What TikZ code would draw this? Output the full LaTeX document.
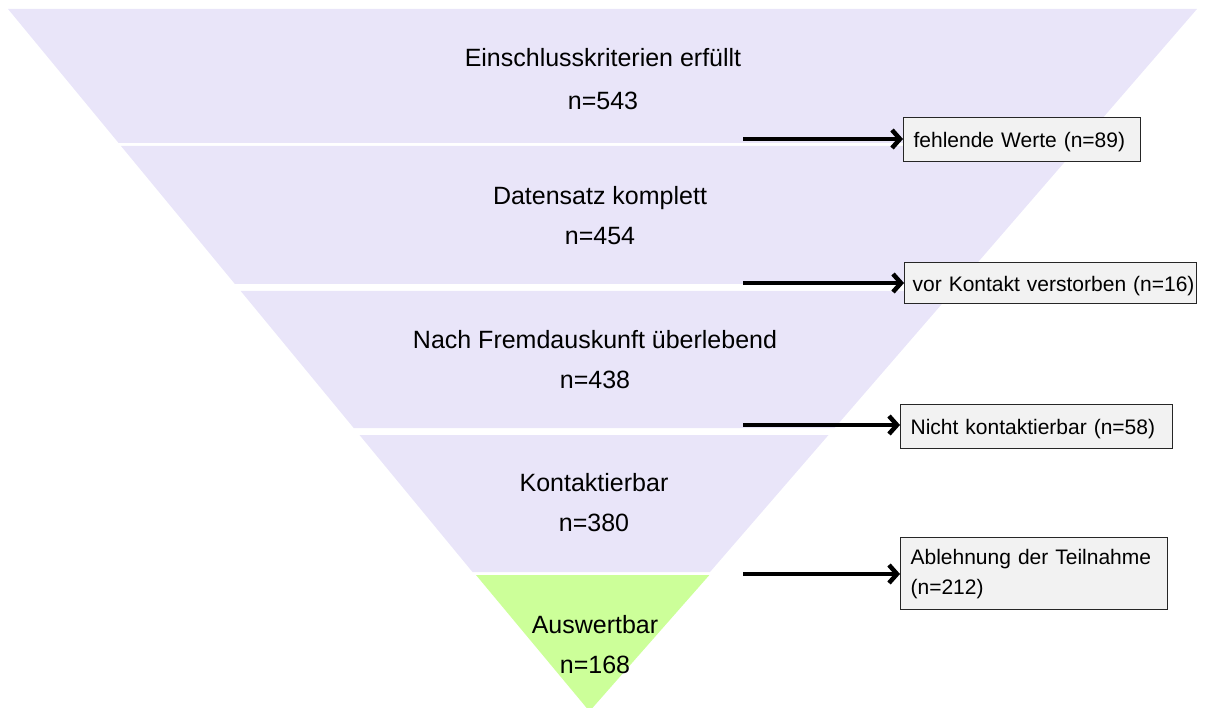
\documentclass[tikz,border=0pt]{standalone}
\usepackage{fontspec}
\setmainfont{Liberation Sans}
\newcommand\boxfontsel{\fontsize{21}{30}\selectfont\spaceskip=0.2em\relax}
\usetikzlibrary{arrows.meta}
\definecolor{bandlav}{HTML}{E9E5F9}
\definecolor{bandgreen}{HTML}{CCFF99}
\definecolor{boxfill}{HTML}{F2F2F2}
\definecolor{boxline}{HTML}{262626}
\begin{document}
\begin{tikzpicture}[x=1pt,y=-1pt,
  bandlabel/.style={align=center,font=\fontsize{25}{40}\selectfont,inner sep=0pt},
  dropbox/.style={draw=boxline,fill=boxfill,line width=1.2pt,anchor=north west,align=left,
    font=\boxfontsel,inner xsep=10pt,inner ysep=0pt},
  oneline/.style={text height=17pt,text depth=1pt},
  droparrow/.style={line width=4.5pt,-{Straight Barb[length=8pt,width=18pt]}}]
\useasboundingbox (0,0) rectangle (1210,708);
% funnel bands
\fill[bandlav] (8,9) -- (1197,9) -- (1081.1,143) -- (118.6,143) -- cycle;
\fill[bandlav] (121.0,146) -- (1078.5,146) -- (959.1,284) -- (234.9,284) -- cycle;
\fill[bandlav] (240.7,291) -- (953.1,291) -- (834.6,428) -- (353.7,428) -- cycle;
\fill[bandlav] (359.5,435) -- (828.5,435) -- (710.0,572) -- (472.5,572) -- cycle;
\fill[bandgreen] (476.0,575) -- (709.4,575) -- (592.4,708) -- (586.7,708) -- cycle;
% band labels
\node[bandlabel] (l1) at (603,79) {Einschlusskriterien erfüllt\\[3pt]n=543};
\node[bandlabel] (l2) at (600,216) {Datensatz komplett\\n=454};
\node[bandlabel] (l3) at (595,359.5) {Nach Fremdauskunft überlebend\\n=438};
\node[bandlabel] (l4) at (594,503) {Kontaktierbar\\n=380};
\node[bandlabel] (l5) at (595,645) {Auswertbar\\n=168};
% exclusion boxes
\node[dropbox,oneline,text width=217pt,minimum height=44pt] (b1) at (903,117) {\mbox{fehlende Werte (n=89)}};
\node[dropbox,oneline,text width=276pt,minimum height=41pt,inner xsep=8pt] (b2) at (904,262) {\mbox{vor Kontakt verstorben (n=16)}};
\node[dropbox,oneline,text width=252pt,minimum height=44pt] (b3) at (900,404) {\mbox{Nicht kontaktierbar (n=58)}};
\node[dropbox,text width=247pt,minimum height=72pt] (b4) at (900,537) {Ablehnung der Teilnahme\\(n=212)};
% arrow starts
\coordinate (s1) at (743,139);
\coordinate (s2) at (743,283);
\coordinate (s3) at (743,425);
\coordinate (s4) at (743,574);
\draw[droparrow] (s1) -- (s1 -| b1.west);
\draw[droparrow] (s2) -- (s2 -| b2.west);
\draw[droparrow] (s3) -- (s3 -| b3.west);
\draw[droparrow] (s4) -- (s4 -| b4.west);
\end{tikzpicture}
\end{document}
